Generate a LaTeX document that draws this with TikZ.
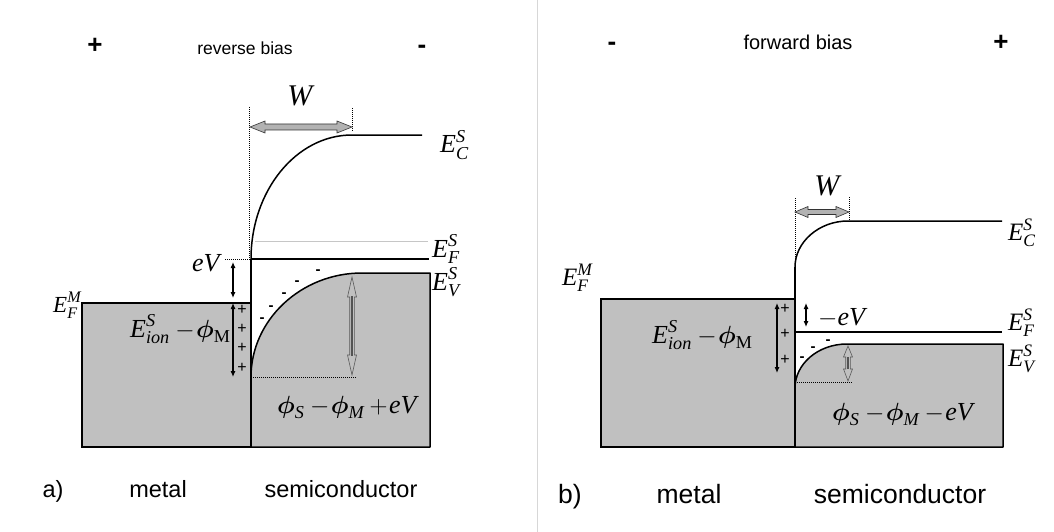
\documentclass[tikz,border=0pt]{standalone}
\usepackage{amsmath}
\usepackage{fontspec}
\setmainfont{Liberation Serif}
\setsansfont{Liberation Sans}
\usetikzlibrary{arrows.meta}
\definecolor{bandgray}{RGB}{192,192,192}
\definecolor{sepgray}{RGB}{215,215,215}
\newcommand\ELv[3]{$\textit{#1}^{\textit{#2}}_{\textit{#3}}$}
\newcommand\phiB{\boldsymbol{\phi}}
\newcommand\tmin{\mskip4mu{-}\mskip1mu}
\newcommand\tplus{\mskip4mu{+}\mskip1mu}
\tikzset{
  band/.style={line width=1.5pt, line join=round},
  boxline/.style={line width=1.6pt, draw=black, fill=bandgray},
  dotl/.style={line width=0.9pt, dash pattern=on 1pt off 1pt},
  blkarr/.style={line width=1.1pt, {Latex[length=6pt,width=5pt]}-{Latex[length=6pt,width=5pt]}},
  fatarr/.style={fill=gray!60, draw=black!80, line width=0.6pt},
  openarr/.style={draw=black!65, line width=0.6pt, line join=miter},
  openshaft/.style={draw=gray!65!black, line width=1.4pt},
  lbl/.style={inner sep=0pt, anchor=base west, font=\fontsize{26}{28}\selectfont},
  lblr/.style={inner sep=0pt, anchor=base west, font=\fontsize{25}{27}\selectfont},
  lblsmall/.style={inner sep=0pt, anchor=base west, font=\fontsize{23}{26}\selectfont},
  wlbl/.style={inner sep=0pt, anchor=base, font=\fontsize{30}{30}\selectfont},
  sgn/.style={inner sep=0pt, anchor=base, font=\sffamily\bfseries\fontsize{26}{26}\selectfont},
  chg/.style={inner sep=0pt, font=\sffamily\bfseries\fontsize{15}{15}\selectfont},
  plc/.style={inner sep=0pt, font=\sffamily\fontsize{16}{16}\selectfont},
  captxt/.style={inner sep=0pt, anchor=base, font=\sffamily\fontsize{23.5}{26}\selectfont},
  captxtb/.style={inner sep=0pt, anchor=base, font=\sffamily\fontsize{26.5}{28}\selectfont},
}
\begin{document}
\begin{tikzpicture}[x=1pt,y=-1pt]
\useasboundingbox (0,0) rectangle (1054,532);
% separator
\draw[sepgray, line width=1pt] (537,0) -- (537,532);

%================ LEFT PANEL (reverse bias) ================
\node[sgn] (pa) at (95,54) {+};
\node[sgn] (ma) at (422,54) {-};
\node[inner sep=0pt, font=\sffamily\fontsize{17.5}{18}\selectfont] (rb) at (245,48) {reverse bias};

% semiconductor gray region
\fill[bandgray] (251,377) .. controls (251,320) and (301,273) .. (362,273) -- (430,273) -- (430,447) -- (251,447) -- cycle;
\draw[band] (251,377) .. controls (251,320) and (301,273) .. (362,273) -- (430,273) -- (430,447) -- (251,447);
% metal box
\draw[boxline] (82,303) rectangle (251,447);
% interface and bands
\draw[band] (251,259) -- (251,447);
\draw[band] (251,259) .. controls (251,191) and (296,135) .. (352,135) -- (422,135);
\draw[gray!45, line width=1pt] (255,241) -- (428,241);
\draw[band] (251,259) -- (429,259);
% dotted lines
\coordinate (wla) at (249,107);
\coordinate (wlb) at (249,259);
\coordinate (wra) at (352,108);
\coordinate (wrb) at (352,132);
\draw[dotl] (wla) -- (wlb);
\draw[dotl] (wra) -- (wrb);
\draw[dotl] (225,259) -- (250,259);
\draw[dotl] (253,377) -- (357,377);
% W arrow
\draw[fatarr] (250,127) -- (265,121) -- (265,124) -- (337,124) -- (337,121) -- (352,127) -- (337,133) -- (337,130) -- (265,130) -- (265,133) -- cycle;
\node[wlbl] (Wa) at (301,106) {\textit{W}};
% open arrow
\draw[openshaft] (352,296) -- (352,356);
\draw[openarr] (352,277) -- (356.5,297) -- (354.3,297) -- (354.3,355) -- (356.5,355) -- (352,375) -- (347.5,355) -- (349.7,355) -- (349.7,297) -- (347.5,297) -- cycle;
% black arrows
\coordinate (eva) at (233,262);
\coordinate (evb) at (233,298);
\coordinate (ioa) at (233,303);
\coordinate (iob) at (233,377);
\draw[blkarr] (eva) -- (evb);
\draw[blkarr] (ioa) -- (iob);
% charges
\foreach \yy [count=\i] in {310,329,348,368} \node[plc] (pla\i) at (242,\yy) {+};
\foreach \xx/\yy [count=\i] in {318/272,297/283,284/295,271/308,262/320} \node[chg] (mia\i) at (\xx,\yy) {-};
% labels
\node[lbl] (ECa) at (440,153) {\ELv{E}{S}{C}};
\node[lbl] (EFa) at (432,257) {\ELv{E}{S}{F}};
\node[lbl] (EVa) at (432,290) {\ELv{E}{S}{V}};
\node[lblsmall] (EMa) at (53,312) {\ELv{E}{M}{F}};
\node[lbl] (eVa) at (192,271) {\textit{eV}};
\node[lbl] (Eia) at (130,337) {$\textit{E}^{\textit{S}}_{\textit{ion}}\tmin\phiB_{\textrm{M}}$};
\node[lbl] (pha) at (277,413) {$\phiB_{\textit{S}}\tmin\phiB_{\textit{M}}\tplus\textit{eV}$};
\node[captxt] (aa) at (53,497) {a)};
\node[captxt] (mta) at (158,497) {metal};
\node[captxt] (sca) at (341,497) {semiconductor};

%================ RIGHT PANEL (forward bias) ================
\node[sgn] (mb) at (612,51) {-};
\node[sgn] (pb) at (1001,51) {+};
\node[inner sep=0pt, font=\sffamily\fontsize{20}{20}\selectfont] (fb) at (798,42) {forward bias};

\fill[bandgray] (795,388) .. controls (795,364) and (818,344) .. (847,344) -- (1003,344) -- (1003,447) -- (795,447) -- cycle;
\draw[band] (795,388) .. controls (795,364) and (818,344) .. (847,344) -- (1003,344) -- (1003,447) -- (795,447);
\draw[boxline] (601,299) rectangle (795,447);
\draw[band] (795,267) -- (795,447);
\draw[band] (795,267) .. controls (795,242) and (819,221) .. (848,221) -- (1002,221);
\draw[band] (795,332) -- (1002,332);
% dotted
\coordinate (wlc) at (795,198);
\coordinate (wld) at (795,268);
\coordinate (wrc) at (849,197);
\coordinate (wrd) at (849,221);
\draw[dotl] (wlc) -- (wld);
\draw[dotl] (wrc) -- (wrd);
\draw[dotl] (797,382) -- (853,382);
% W arrow
\draw[fatarr] (795,212) -- (808,206.5) -- (808,209.5) -- (836,209.5) -- (836,206.5) -- (849,212) -- (836,217.5) -- (836,214.5) -- (808,214.5) -- (808,217.5) -- cycle;
\node[wlbl] (Wb) at (828,195) {\textit{W}};
% open arrow
\draw[openshaft] (848,357) -- (848,369);
\draw[openarr] (848,346) -- (852.5,357) -- (850.3,357) -- (850.3,369) -- (852.5,369) -- (848,381) -- (843.5,369) -- (845.7,369) -- (845.7,357) -- (843.5,357) -- cycle;
% black arrows
\coordinate (evc) at (806,303);
\coordinate (evd) at (806,327);
\coordinate (ioc) at (777,303);
\coordinate (iod) at (777,373);
\draw[blkarr] (evc) -- (evd);
\draw[blkarr] (ioc) -- (iod);
% charges
\foreach \yy [count=\i] in {309,334,360} \node[plc] (plb\i) at (785,\yy) {+};
\foreach \xx/\yy [count=\i] in {802/359,813/349,828/342} \node[chg] (mib\i) at (\xx,\yy) {-};
% labels
\node[lblr] (ECb) at (1008,240) {\ELv{E}{S}{C}};
\node[lblr] (EFb) at (1008,330) {\ELv{E}{S}{F}};
\node[lblr] (EVb) at (1008,366) {\ELv{E}{S}{V}};
\node[lblr] (EMb) at (562,285) {\ELv{E}{M}{F}};
\node[lbl] (eVb) at (818,325) {$-\textit{eV}$};
\node[lbl] (Eib) at (652,343) {$\textit{E}^{\textit{S}}_{\textit{ion}}\tmin\phiB_{\textrm{M}}$};
\node[lbl] (phb) at (832,420) {$\phiB_{\textit{S}}\tmin\phiB_{\textit{M}}\tmin\textit{eV}$};
\node[captxtb] (bb) at (570,503) {b)};
\node[captxtb] (mtb) at (689,503) {metal};
\node[captxtb] (scb) at (900,503) {semiconductor};
\end{tikzpicture}
\end{document}
